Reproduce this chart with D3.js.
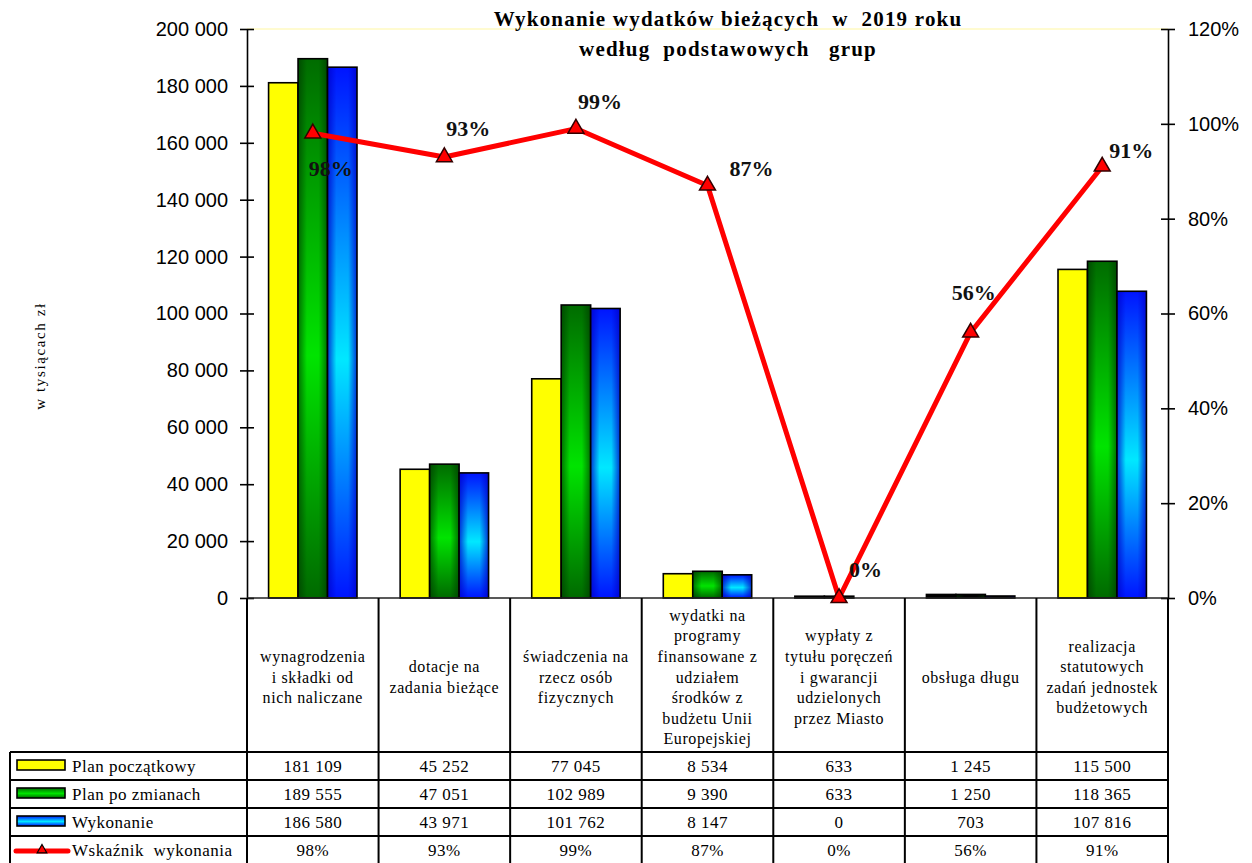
<!DOCTYPE html>
<html>
<head>
<meta charset="utf-8">
<script src="https://cdn.jsdelivr.net/npm/d3@7"></script>
<style>
  html, body { margin: 0; padding: 0; background: #fff; }
  svg { display: block; }
  text { white-space: pre; }
</style>
</head>
<body>
<svg id="chart" width="1252" height="863"></svg>
<script>
// ---------- DATA ----------
const categories = [
  "wynagrodzenia\ni składki od\nnich naliczane",
  "dotacje na\nzadania bieżące",
  "świadczenia na\nrzecz osób\nfizycznych",
  "wydatki na\nprogramy\nfinansowane z\nudziałem\nśrodków z\nbudżetu Unii\nEuropejskiej",
  "wypłaty z\ntytułu poręczeń\ni gwarancji\nudzielonych\nprzez Miasto",
  "obsługa długu",
  "realizacja\nstatutowych\nzadań jednostek\nbudżetowych"
];
const planPoczatkowy = [181109, 45252, 77045, 8534, 633, 1245, 115500];
const planPoZmianach = [189555, 47051, 102989, 9390, 633, 1250, 118365];
const wykonanie      = [186580, 43971, 101762, 8147, 0, 703, 107816];
const wskaznik       = [98, 93, 99, 87, 0, 56, 91];
const seriesNames = ["Plan początkowy", "Plan po zmianach", "Wykonanie", "Wskaźnik  wykonania"];
const leftTicks  = [0, 20000, 40000, 60000, 80000, 100000, 120000, 140000, 160000, 180000, 200000];
const rightTicks = [0, 0.2, 0.4, 0.6, 0.8, 1.0, 1.2];
const titleLines = ["Wykonanie wydatków bieżących  w  2019 roku", "według  podstawowych   grup"];
const yAxisTitle = "w tysiącach zł";

// ---------- LAYOUT ----------
const L = 247, R = 1168, T = 29, B = 598;
const tableLeft = 10, tableRowTop = 752, rowH = 28;
// label placement relative to each point (layout only)
const labelOffsets = [[-4, 43], [2, -21], [2, -20], [22, -9], [10, -21], [-19, -32], [7, -9]];

const svg = d3.select("#chart");
const defs = svg.append("defs");

function linGrad(id, vertical, stops) {
  const g = defs.append("linearGradient").attr("id", id)
    .attr("x1", 0).attr("y1", 0)
    .attr("x2", vertical ? 0 : 1).attr("y2", vertical ? 1 : 0);
  stops.forEach(s => g.append("stop").attr("offset", s[0]).attr("stop-color", s[1]).attr("stop-opacity", s[2] == null ? 1 : s[2]));
}
linGrad("gGreenV", true, [[0, "#006c00"], [0.55, "#00e400"], [1, "#006a00"]]);
linGrad("gBlueV", true, [[0, "#0014ff"], [0.55, "#00e8ff"], [1, "#0014ff"]]);
linGrad("gGreenH", false, [[0, "#003800", 0.65], [0.3, "#003800", 0], [0.7, "#003800", 0], [1, "#003800", 0.65]]);
linGrad("gBlueH", false, [[0, "#0000c8", 0.75], [0.3, "#0000c8", 0], [0.7, "#0000c8", 0], [1, "#0000c8", 0.75]]);

const fills = [
  { base: "#ffff00", over: null },
  { base: "url(#gGreenV)", over: "url(#gGreenH)" },
  { base: "url(#gBlueV)", over: "url(#gBlueH)" }
];

const x = d3.scaleBand().domain(d3.range(categories.length)).range([L, R]);
const yL = d3.scaleLinear().domain([0, 200000]).range([B, T]);
const yR = d3.scaleLinear().domain([0, 1.2]).range([B, T]);

const bw = x.bandwidth() * 0.224;
const groupOffset = (x.bandwidth() - 3 * bw) / 2;
const barSeries = [planPoczatkowy, planPoZmianach, wykonanie];

// faint top border of plot area
svg.append("line").attr("x1", L).attr("x2", R).attr("y1", T).attr("y2", T)
  .attr("stroke", "#fffac0").attr("stroke-width", 1.5);

// ---------- BARS ----------
barSeries.forEach((vals, si) => {
  const g = svg.append("g");
  vals.forEach((v, ci) => {
    if (v <= 0) return;
    const bx = x(ci) + groupOffset + si * bw;
    const by = yL(v), bh = B - yL(v);
    g.append("rect").attr("x", bx).attr("y", by).attr("width", bw).attr("height", bh)
      .attr("fill", bh < 4 ? "#000" : fills[si].base);
    g.append("rect").attr("x", bx).attr("y", by).attr("width", bw).attr("height", bh)
      .attr("fill", fills[si].over || "none")
      .attr("stroke", "#000").attr("stroke-width", 1.6);
  });
});

// ---------- AXES ----------
const fmtThousands = v => d3.format(",")(v).replace(/,/g, " ");
const axL = svg.append("g").attr("transform", `translate(${L},0)`)
  .call(d3.axisLeft(yL).tickValues(leftTicks).tickFormat(fmtThousands).tickSize(7).tickSizeOuter(0).tickPadding(12));
axL.selectAll(".tick line").attr("x1", 7);
const axR = svg.append("g").attr("transform", `translate(${R},0)`)
  .call(d3.axisRight(yR).tickValues(rightTicks).tickFormat(d3.format(".0%")).tickSize(7).tickSizeOuter(0).tickPadding(13));
axR.selectAll(".tick line").attr("x1", -7);
[axL, axR].forEach(a => {
  a.select(".domain").attr("stroke", "#000").attr("stroke-width", 1.6);
  a.selectAll(".tick line").attr("stroke", "#000").attr("stroke-width", 1.6);
  a.selectAll(".tick text").attr("font-family", "Liberation Sans, Arial, sans-serif")
    .attr("font-size", 20).attr("fill", "#000");
});
// x baseline
svg.append("line").attr("x1", L).attr("x2", R).attr("y1", B).attr("y2", B)
  .attr("stroke", "#222").attr("stroke-width", 1.6);

// ---------- LINE ----------
const px = i => x(i) + x.bandwidth() / 2;
const line = d3.line().x((d, i) => px(i)).y(d => yR(d / 100));
svg.append("path").datum(wskaznik).attr("d", line)
  .attr("fill", "none").attr("stroke", "#ff0000").attr("stroke-width", 5).attr("stroke-linejoin", "round");
const tri = d3.symbol().type(d3.symbolTriangle).size(110);
svg.selectAll(".mk").data(wskaznik).join("path")
  .attr("transform", (d, i) => `translate(${px(i)},${yR(d / 100)})`)
  .attr("d", tri).attr("fill", "#ff0000").attr("stroke", "#300").attr("stroke-width", 1.5);
svg.selectAll(".pl").data(wskaznik).join("text")
  .attr("x", (d, i) => px(i) + labelOffsets[i][0])
  .attr("y", (d, i) => yR(d / 100) + labelOffsets[i][1])
  .attr("font-family", "Liberation Serif, Times New Roman, serif").attr("font-weight", "bold")
  .attr("font-size", 22).attr("fill", "#111")
  .text(d => d + "%");

// ---------- TITLE ----------
titleLines.forEach((t, i) => {
  svg.append("text").attr("x", 728).attr("y", 26 + i * 30).attr("text-anchor", "middle")
    .attr("font-family", "Liberation Serif, Times New Roman, serif").attr("font-weight", "bold")
    .attr("font-size", 21).attr("letter-spacing", 1.2).attr("fill", "#000").text(t);
});
svg.append("text").attr("transform", "translate(45,356) rotate(-90)").attr("text-anchor", "middle")
  .attr("font-family", "Liberation Serif, Times New Roman, serif").attr("font-size", 15)
  .attr("letter-spacing", 1.6).attr("fill", "#000").text(yAxisTitle);

// ---------- TABLE ----------
const tbl = svg.append("g").attr("stroke", "#000").attr("stroke-width", 2);
d3.range(categories.length + 1).forEach(i => {
  const xx = i === categories.length ? R : x(i);
  tbl.append("line").attr("x1", xx).attr("x2", xx).attr("y1", B).attr("y2", 863);
});
tbl.append("line").attr("x1", tableLeft).attr("x2", tableLeft).attr("y1", tableRowTop).attr("y2", 863);
d3.range(5).forEach(r => {
  const yy = tableRowTop + r * rowH;
  tbl.append("line").attr("x1", tableLeft).attr("x2", R).attr("y1", yy).attr("y2", yy);
});

// category labels
categories.forEach((c, i) => {
  const lines = c.split("\n");
  const lh = 20.6, cy = 677;
  const t = svg.append("text").attr("text-anchor", "middle")
    .attr("font-family", "Liberation Serif, Times New Roman, serif").attr("font-size", 16)
    .attr("letter-spacing", 0.6).attr("fill", "#000");
  lines.forEach((ln, k) => {
    t.append("tspan").attr("x", px(i)).attr("y", cy + (k - (lines.length - 1) / 2) * lh + 5.5).text(ln);
  });
});

// table rows
const rowsData = [
  planPoczatkowy.map(fmtThousands),
  planPoZmianach.map(fmtThousands),
  wykonanie.map(fmtThousands),
  wskaznik.map(v => v + "%")
];
rowsData.forEach((row, r) => {
  const cyRow = tableRowTop + r * rowH + rowH / 2;
  row.forEach((val, i) => {
    svg.append("text").attr("x", px(i)).attr("y", cyRow + 6).attr("text-anchor", "middle")
      .attr("font-family", "Liberation Serif, Times New Roman, serif").attr("font-size", 17)
      .attr("letter-spacing", 0.5).attr("fill", "#000").text(val);
  });
  // legend key
  if (r < 3) {
    svg.append("rect").attr("x", 17).attr("y", cyRow - 6).attr("width", 48).attr("height", 10)
      .attr("fill", fills[r].base);
    svg.append("rect").attr("x", 17).attr("y", cyRow - 6).attr("width", 48).attr("height", 10)
      .attr("fill", "none").attr("stroke", "#000").attr("stroke-width", 1.6);
  } else {
    svg.append("line").attr("x1", 16).attr("x2", 68).attr("y1", cyRow + 1).attr("y2", cyRow + 1)
      .attr("stroke", "#ff0000").attr("stroke-width", 5).attr("stroke-linecap", "round");
    svg.append("path").attr("transform", `translate(42,${cyRow})`)
      .attr("d", d3.symbol().type(d3.symbolTriangle).size(40))
      .attr("fill", "#ff0000").attr("stroke", "#000").attr("stroke-width", 1.2);
  }
  svg.append("text").attr("x", 72).attr("y", cyRow + 6)
    .attr("font-family", "Liberation Serif, Times New Roman, serif").attr("font-size", 17)
    .attr("letter-spacing", 0.5).attr("fill", "#000").text(seriesNames[r]);
});
</script>
</body>
</html>
